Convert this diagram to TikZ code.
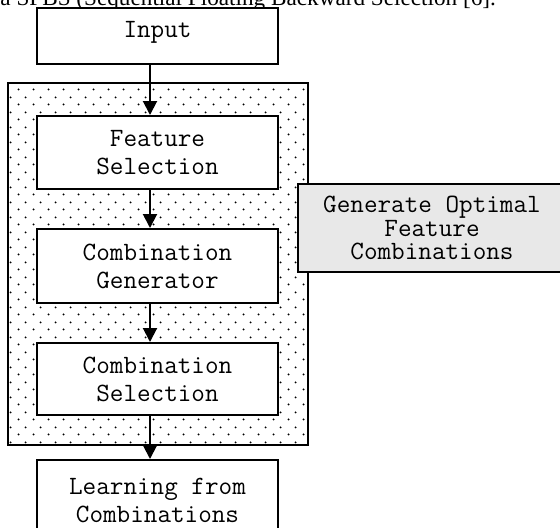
\documentclass[tikz,border=0pt]{standalone}
\usepackage{fontspec}
\newfontfamily\captionfont{Liberation Serif}
\usetikzlibrary{arrows.meta,patterns}

% sparse staggered dots for the outer block
\pgfdeclarepatternformonly{sparsedots}{\pgfpointorigin}{\pgfqpoint{7.5pt}{7.5pt}}{\pgfqpoint{7.5pt}{7.5pt}}{%
	\pgfpathcircle{\pgfqpoint{1.875pt}{1.875pt}}{0.55pt}%
	\pgfpathcircle{\pgfqpoint{5.625pt}{5.625pt}}{0.55pt}%
	\pgfusepath{fill}}

\begin{document}
\begin{tikzpicture}[x=0.5pt, y=0.5pt, >={Triangle[width=7pt,length=7pt]}, font=\ttfamily\fontsize{13.2}{14}\selectfont]
		\tikzset{block/.style={draw, line width=1pt, fill=white, minimum width=120.5pt, align=center, inner sep=0pt},
			flow/.style={->, line width=1pt}}
		\useasboundingbox (0,0) rectangle (560,527);
		\node[anchor=base west, inner sep=0pt, font=\captionfont\fontsize{11.6}{14}\selectfont] (caption) at (0,522) {a SFBS (Sequential Floating Backward Selection [6].};
		\draw[line width=1pt, pattern=sparsedots] (8,82) rectangle (308,444);
		\node[block, minimum height=28pt, text depth=6.5pt] (input) at (157.5,491) {Input};
		\node[block, minimum height=36.5pt] (fsel) at (157.5,374.5) {Feature\\Selection};
		\node[block, minimum height=37pt] (cgen) at (157.5,261) {Combination\\Generator};
		\node[block, minimum height=36pt] (csel) at (157.5,148) {Combination\\Selection};
		\node[block, minimum height=40pt] (learn) at (157.5,27) {Learning from\\Combinations};
		\node[block, fill=black!9, minimum width=134pt, minimum height=44pt, font=\ttfamily\fontsize{13.2}{11.75}\selectfont] (optimal) at (432,299) {Generate Optimal\\Feature\\Combinations};
		\draw[flow] ([xshift=-3.75pt]input.south) -- ([xshift=-3.75pt]fsel.north);
		\draw[flow] ([xshift=-3.75pt]fsel.south) -- ([xshift=-3.75pt]cgen.north);
		\draw[flow] ([xshift=-3.75pt]cgen.south) -- ([xshift=-3.75pt]csel.north);
		\draw[flow] ([xshift=-3.75pt]csel.south) -- ([xshift=-3.75pt]learn.north);
	\end{tikzpicture}
\end{document}
